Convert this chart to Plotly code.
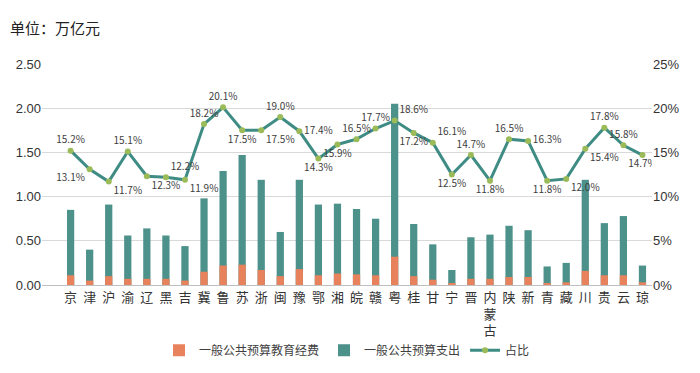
import plotly.graph_objects as go

provinces = ["京","津","沪","渝","辽","黑","吉","冀","鲁","苏","浙","闽","豫","鄂","湘","皖","赣",
             "粤","桂","甘","宁","晋","内蒙古","陕","新","青","藏","川","贵","云","琼"]
tick_labels = [p if p != "内蒙古" else "内<br>蒙<br>古" for p in provinces]
budget_total = [0.85,0.40,0.91,0.56,0.64,0.56,0.44,0.98,1.29,1.47,1.19,0.60,1.19,0.91,0.92,0.86,0.75,
                2.05,0.69,0.46,0.17,0.54,0.57,0.67,0.62,0.21,0.25,1.19,0.70,0.78,0.22]
edu_spend = [0.11,0.05,0.10,0.07,0.07,0.07,0.05,0.15,0.22,0.23,0.17,0.10,0.18,0.11,0.13,0.12,0.11,
             0.32,0.10,0.06,0.02,0.07,0.07,0.09,0.09,0.02,0.03,0.16,0.11,0.11,0.03]
share_pct = [15.2,13.1,11.7,15.1,12.3,12.2,11.9,18.2,20.1,17.5,17.5,19.0,17.4,14.3,15.9,16.5,17.7,
             18.6,17.2,16.1,12.5,14.7,11.8,16.5,16.3,11.8,12.0,15.4,17.8,15.8,14.7]
label_pos = ["top center","bottom left","bottom right","top center","bottom right","top right","bottom right",
             "top center","top center","bottom center","bottom right","top center","middle right","bottom center",
             "bottom center","top center","top center","top right","bottom center","top right","bottom center",
             "top center","bottom center","top center","middle right","bottom center","bottom right","bottom right",
             "top center","top center","bottom center"]
left_ticks = [0, 0.5, 1.0, 1.5, 2.0, 2.5]
right_ticks = [0, 5, 10, 15, 20, 25]
right_tick_text = ["0%", "5%", "10%", "15%", "20%", "25%"]

ORANGE = "#E8825C"
TEAL = "#4D918B"
LINE = "#3F8C85"
MARK = "#9BBB59"
CJK = "Noto Sans CJK SC"

fig = go.Figure()
fig.add_trace(go.Bar(x=provinces, y=budget_total, name="一般公共预算支出",
                     marker=dict(color=TEAL, line=dict(width=0)), width=0.38, legendrank=2))
fig.add_trace(go.Bar(x=provinces, y=edu_spend, name="一般公共预算教育经费",
                     marker=dict(color=ORANGE, line=dict(width=0)), width=0.38, legendrank=1))
fig.add_trace(go.Scatter(x=provinces, y=share_pct, name="占比", yaxis="y2",
                         mode="lines+markers+text", legendrank=3,
                         line=dict(color=LINE, width=3),
                         marker=dict(color=MARK, size=6),
                         text=[f"{v:.1f}%" for v in share_pct],
                         textposition=label_pos,
                         textfont=dict(family=CJK, size=10, color="#404040")))

fig.update_layout(
    width=692, height=365,
    margin=dict(l=34, r=48, t=56, b=88, autoexpand=False),
    paper_bgcolor="white", plot_bgcolor="white",
    barmode="overlay",
    showlegend=True,
    legend=dict(orientation="h", x=0.5, xanchor="center", yref="container", y=0.062, yanchor="middle",
                font=dict(family=CJK, size=12, color="#404040"), bgcolor="rgba(0,0,0,0)",
                traceorder="normal", itemwidth=30),
    xaxis=dict(range=[-1.5, 30.5], tickmode="array", tickvals=provinces, ticktext=tick_labels,
               tickfont=dict(family=CJK, size=13, color="#333333"), showgrid=False,
               showline=True, linecolor="#BFBFBF", linewidth=1, ticks="", automargin=False),
    yaxis=dict(range=[0, 2.5], tickvals=left_ticks, tickformat=".2f", automargin=False,
               tickfont=dict(family="Liberation Sans", size=13, color="#333333"),
               gridcolor="#D9D9D9", gridwidth=1, zeroline=False, showline=False),
    yaxis2=dict(range=[0, 25], tickmode="array", tickvals=right_ticks, ticktext=right_tick_text,
                overlaying="y", side="right", automargin=False,
                tickfont=dict(family="Liberation Sans", size=13, color="#333333"),
                showgrid=False, zeroline=False),
    annotations=[dict(text="单位：万亿元", xref="paper", yref="paper", x=-0.055, y=1.167,
                      xanchor="left", yanchor="middle", showarrow=False,
                      font=dict(family=CJK, size=15, color="#222222"))],
)

fig.write_html("out.html")
